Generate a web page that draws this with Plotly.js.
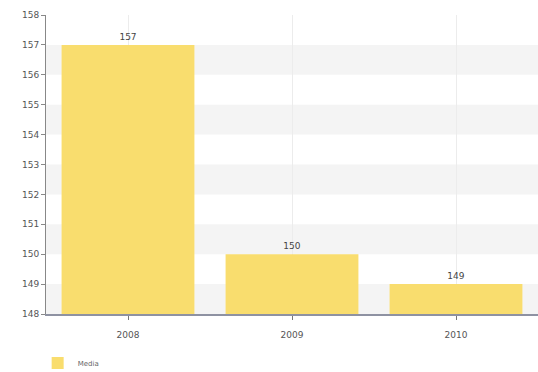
<!DOCTYPE html>
<html>
<head>
<meta charset="utf-8">
<script src="https://cdn.plot.ly/plotly-3.0.1.min.js"></script>
<style>html,body{margin:0;padding:0;background:#fff;}#chart{width:538px;height:372px;}</style>
</head>
<body>
<div id="chart"></div>
<script>
var categories = ["2008", "2009", "2010"];
var values = [157, 150, 149];
var seriesName = "Media";
var yTicks = [148, 149, 150, 151, 152, 153, 154, 155, 156, 157, 158];

var shapes = [];
for (var i = 0; i < yTicks.length - 1; i += 2) {
  shapes.push({
    type: "rect", xref: "paper", yref: "y",
    x0: 0, x1: 1, y0: yTicks[i], y1: yTicks[i + 1],
    fillcolor: "#f4f4f4", line: {width: 0}, layer: "below"
  });
}

var trace = {
  type: "bar",
  x: categories,
  y: values,
  base: 0,
  name: seriesName,
  width: 0.81,
  marker: {color: "#f9dd6e"},
  text: values.map(String),
  textposition: "outside",
  cliponaxis: false,
  textfont: {family: "DejaVu Sans", size: 9, color: "#444"},
  hoverinfo: "skip"
};

var layout = {
  width: 538, height: 372,
  margin: {l: 46, r: 0, t: 15, b: 58},
  paper_bgcolor: "#fff", plot_bgcolor: "#fff",
  font: {family: "DejaVu Sans", size: 9, color: "#555"},
  showlegend: true,
  legend: {orientation: "h", xref: "container", yref: "container",
           x: 0.07, xanchor: "left", y: 0.024, yanchor: "middle",
           font: {size: 7, color: "#666"}},
  bargap: 0.19,
  shapes: shapes,
  xaxis: {
    type: "category", range: [-0.5, 2.5],
    showline: true, linecolor: "#8e92a2", linewidth: 2,
    ticks: "outside", ticklen: 4, tickcolor: "#777",
    ticklabelstandoff: 7,
    showgrid: true, gridcolor: "#ececec",
    tickfont: {size: 9, color: "#555"}
  },
  yaxis: {
    range: [148, 158], tickvals: yTicks,
    showline: true, linecolor: "#888", linewidth: 1,
    ticks: "outside", ticklen: 4, tickcolor: "#888",
    showgrid: false, zeroline: false,
    tickfont: {size: 9, color: "#555"}
  }
};

Plotly.newPlot("chart", [trace], layout, {displayModeBar: false, staticPlot: true});
</script>
</body>
</html>
